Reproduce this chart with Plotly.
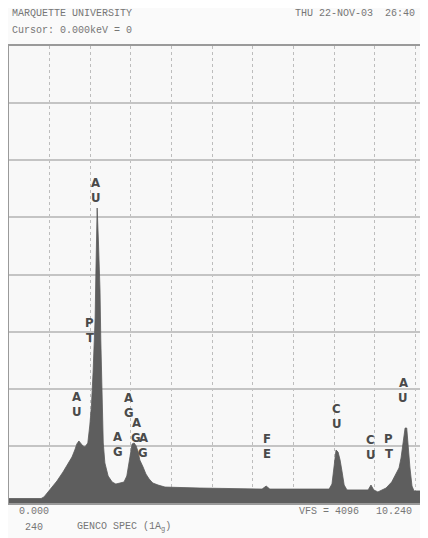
import plotly.graph_objects as go

# Spectrum (energy in keV, counts; full scale 4096)
energy_kev = [0.00, 0.79, 0.86, 1.01, 1.18, 1.33, 1.45, 1.55, 1.62, 1.67, 1.72, 1.77,
              1.82, 1.87, 1.94, 1.99, 2.03, 2.07, 2.12, 2.14, 2.17, 2.20, 2.24, 2.26,
              2.29, 2.32, 2.36, 2.44, 2.54, 2.63, 2.73, 2.83, 2.90, 2.98, 3.03, 3.08,
              3.13, 3.18, 3.22, 3.30, 3.37, 3.45, 3.54, 3.67, 3.84, 4.70, 5.69, 6.23,
              6.33, 6.42, 7.16, 7.88, 7.95, 8.00, 8.05, 8.10, 8.15, 8.20, 8.25, 8.32,
              8.84, 8.91, 8.98, 9.08, 9.28, 9.42, 9.53, 9.60, 9.65, 9.70, 9.75, 9.79,
              9.82, 9.87, 9.92, 9.97, 10.24]
counts = [40, 40, 54, 117, 197, 278, 350, 412, 475, 529, 556, 529,
          511, 502, 538, 699, 878, 1174, 1658, 2088, 2644, 2357, 1909, 1461,
          1013, 538, 359, 242, 188, 170, 179, 188, 242, 430, 529, 538,
          511, 457, 385, 323, 260, 215, 179, 161, 143, 134, 125, 125,
          152, 125, 125, 125, 170, 350, 475, 457, 385, 278, 161, 117,
          117, 161, 117, 99, 134, 188, 260, 314, 403, 565, 672, 672,
          520, 314, 152, 108, 108]

# Peak labels (element symbols written vertically)
label_text = ["AU", "PT", "AU", "AG", "AG", "AG", "AG", "FE", "CU", "CU", "PT", "AU"]
label_kev = [2.14, 1.99, 1.67, 2.68, 2.95, 3.13, 3.30, 6.35, 8.07, 8.91, 9.35, 9.70]
label_counts = [2805, 1551, 887, 533, 878, 654, 520, 511, 784, 506, 515, 1017]

x_range = [0.0, 10.24]
y_range = [0, 4096]

fig = go.Figure()
fig.add_trace(go.Scatter(
    x=energy_kev, y=counts, mode="lines", fill="tozeroy",
    line=dict(color="#5a5a5a", width=0.8), fillcolor="#5e5e5e",
    hoverinfo="skip", showlegend=False))

label_font = dict(family="Liberation Sans Narrow, DejaVu Sans Condensed, Arial Narrow, sans-serif",
                  size=13, color="#4a4a4a")
for t, xk, yc in zip(label_text, label_kev, label_counts):
    for ch, shift in ((t[0], 7.5), (t[1], -7.5)):
        fig.add_annotation(x=xk, y=yc, yshift=shift, text="<b>" + ch + "</b>",
                           showarrow=False, font=label_font,
                           xanchor="center", yanchor="middle")

hdr = dict(family="Liberation Mono, DejaVu Sans Mono, monospace", size=10, color="#767676")

# The page body adds an 8px offset; figure sized so the plot box lands on
# page pixels x 9..425, y 46..503.
W, H = 420, 530
L, R, T, B = 1, 3, 38, 35
PL, PR, PT, PB = 9, 425, 46, 503  # plot box in page pixels


def px(x):
    return (x - PL) / (PR - PL)


def py(y):
    return (PB - y) / (PB - PT)


texts = [
    ("MARQUETTE UNIVERSITY", 10, 14, "left"),
    ("Cursor: 0.000keV = 0", 10, 30, "left"),
    ("THU 22-NOV-03  26:40", 417, 14, "right"),
    ("0.000", 17, 512, "left"),
    ("VFS = 4096", 297, 512, "left"),
    ("10.240", 414, 512, "right"),
    ("240", 23, 527, "left"),
    ("GENCO SPEC (1A<sub>g</sub>)", 75, 527, "left"),
]
for s, x, y, anc in texts:
    fig.add_annotation(xref="paper", yref="paper", x=px(x), y=py(y), text=s,
                       showarrow=False, font=hdr, xanchor=anc, yanchor="middle")

fig.update_xaxes(range=x_range, dtick=1, tick0=0, showgrid=True, gridcolor="#bdbdbd",
                 griddash="dot", gridwidth=1.2, showticklabels=False, ticks="",
                 zeroline=False, showline=True, linecolor="#9a9a9a", linewidth=2, mirror=True)
fig.update_yaxes(range=y_range, dtick=512, tick0=0, showgrid=True, gridcolor="#c4c4c4",
                 gridwidth=1.5, showticklabels=False, ticks="",
                 zeroline=False, showline=True, linecolor="#9a9a9a", linewidth=2, mirror=True)

fig.update_layout(width=W, height=H, margin=dict(l=L, r=R, t=T, b=B),
                  paper_bgcolor="#fafafa", plot_bgcolor="#f8f8f8", showlegend=False)

fig.write_html("out.html")
